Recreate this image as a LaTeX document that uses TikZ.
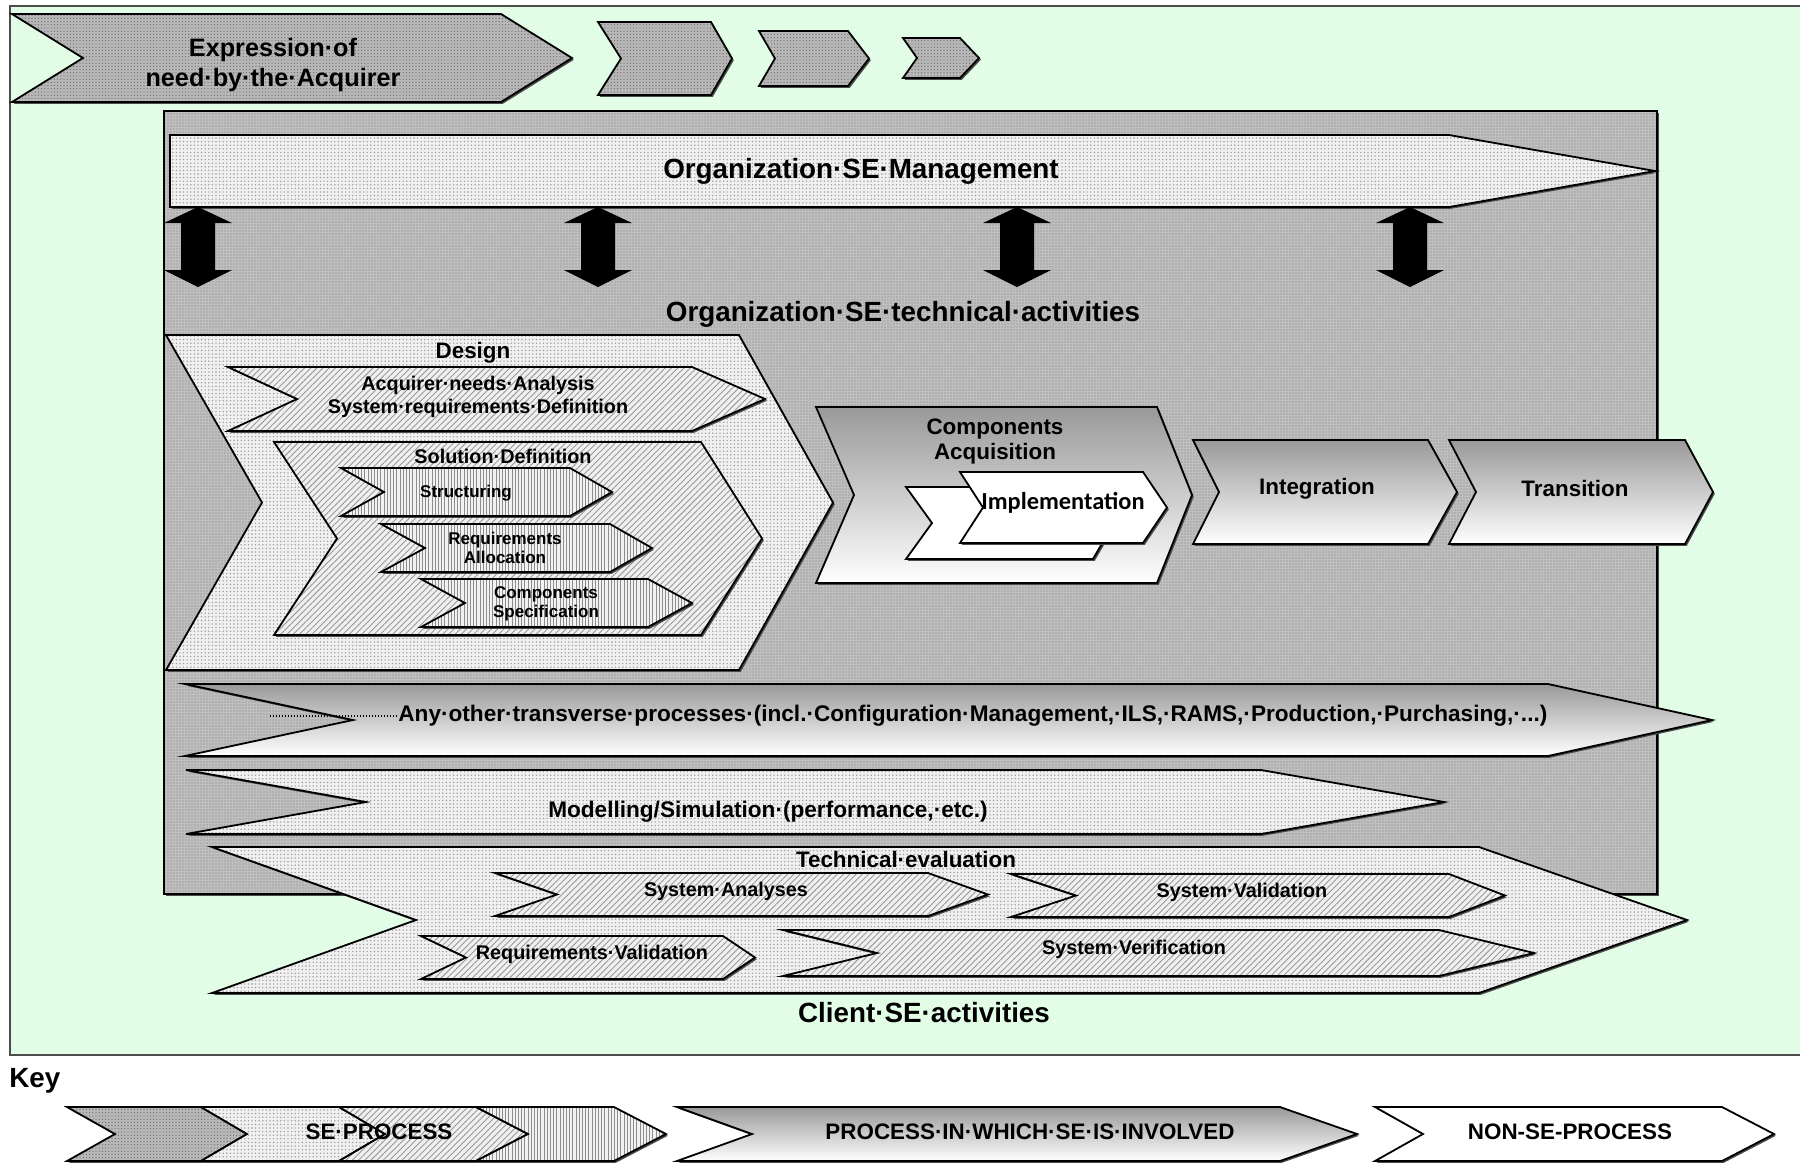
\documentclass[tikz,border=0pt]{standalone}
\usepackage{fontspec}
\setmainfont{Liberation Sans}
\newfontfamily\calfont{Carlito}
\usetikzlibrary{patterns.meta,shadows}

% chevron outline: style, left x, notch x, top-right x, tip x, top y, bottom y
\newcommand{\chevpath}[7]{%
  \path[#1] (#2,#6) -- (#4,#6) -- (#5,{(#6+#7)/2}) -- (#4,#7) -- (#2,#7) -- (#3,{(#6+#7)/2}) -- cycle;}

\definecolor{bggreen}{RGB}{225,253,229}

\begin{document}
\begin{tikzpicture}[x=0.5pt,y=-0.5pt,
  outline/.style={draw=black, line width=0.9pt, line join=miter},
  shadowed/.style={drop shadow={shadow xshift=0.9pt, shadow yshift=-0.9pt, fill=black!70, opacity=1}},
  sedark/.style={outline, shadowed, preaction={fill=black!28},
    pattern={Dots[distance=1.6pt,radius=0.35pt]}, pattern color=black!55},
  selight/.style={outline, shadowed, preaction={fill=black!6},
    pattern={Dots[distance=1.8pt,radius=0.38pt]}, pattern color=black!40},
  sediag/.style={outline, shadowed, preaction={fill=black!6},
    pattern={Lines[angle=45,distance=2.2pt,line width=0.45pt]}, pattern color=black!40},
  severt/.style={outline, shadowed, preaction={fill=black!5},
    pattern={Lines[angle=90,distance=1.6pt,line width=0.4pt]}, pattern color=black!45},
  involved/.style={outline, shadowed, top color=black!40, bottom color=white},
  nonse/.style={outline, shadowed, fill=white},
  lbl/.style={inner sep=0pt, align=center},
  tbig/.style={lbl, font=\bfseries\fontsize{13.9}{16}\selectfont},
  texp/.style={lbl, font=\bfseries\fontsize{12.6}{15}\selectfont},
  tmid/.style={lbl, font=\bfseries\fontsize{11.2}{12.5}\selectfont},
  tlong/.style={lbl, font=\bfseries\fontsize{11.3}{13}\selectfont},
  tsm/.style={lbl, font=\bfseries\fontsize{9.9}{11.5}\selectfont},
  ttiny/.style={lbl, font=\bfseries\fontsize{8.5}{9.5}\selectfont},
  timpl/.style={lbl, font=\calfont\bfseries\fontsize{12.2}{14}\selectfont},
]
\useasboundingbox (0,0) rectangle (1800,1164);
\fill[white] (0,0) rectangle (1800,1164);

% overall green area
\path[fill=bggreen, postaction={pattern={Dots[distance=4pt,radius=0.5pt]}, pattern color=white}]
  (10,6) rectangle (1812,1055);
\draw[black!70, line width=1pt] (1812,6) -- (10,6) -- (10,1055) -- (1812,1055);

% acquirer need and following stages
\chevpath{sedark}{12}{83}{501}{572}{14}{102}
\chevpath{sedark}{598}{621}{711}{732}{22}{95}
\chevpath{sedark}{759}{775}{848}{869}{31}{86}
\chevpath{sedark}{903}{917}{960}{979}{38}{78}
\node[texp] (need) at (273,65) {Expression·of\\need·by·the·Acquirer};

% organization area
\path[outline, line width=0.7pt, shadowed, preaction={fill=black!25},
  pattern={Dots[distance=1.5pt,radius=0.35pt]}, pattern color=black!50]
  (164,111) rectangle (1657,894);

\chevpath{selight}{170}{170}{1449}{1655}{135}{207}
\node[tbig] (mgmt) at (861,171) {Organization·SE·Management};

% double arrows between management and technical activities
\foreach \cx in {198,598,1017,1410} {
  \fill[black] (\cx,207) -- (\cx+34,223) -- (\cx+17,223) -- (\cx+17,270) -- (\cx+34,270)
    -- (\cx,287) -- (\cx-34,270) -- (\cx-17,270) -- (\cx-17,223) -- (\cx-34,223) -- cycle;
}
\node[tbig] (tech) at (903,314) {Organization·SE·technical·activities};

% design
\chevpath{selight}{166}{262}{739}{833}{335}{670}
\node[tmid] (design) at (473,353) {Design};
\chevpath{sediag}{228}{297}{692}{765}{367}{431}
\node[tsm] (needs) at (478,397) {Acquirer·needs·Analysis\\System·requirements·Definition};
\chevpath{sediag}{274}{337}{701}{762}{442}{635}
\node[tsm] (soldef) at (503,456) {Solution·Definition};
\chevpath{severt}{341}{384}{570}{612}{468}{516}
\node[ttiny] (struct) at (466,493) {Structuring};
\chevpath{severt}{381}{425}{610}{652}{524}{572}
\node[ttiny] (alloc) at (505,548) {Requirements\\Allocation};
\chevpath{severt}{421}{465}{648}{692}{579}{627}
\node[ttiny] (spec) at (546,604) {Components\\Specification};

% acquisition, integration, transition
\chevpath{involved}{816}{854}{1157}{1192}{407}{583}
\node[tmid] (acq) at (995,441) {Components\\Acquisition};
\chevpath{nonse}{906}{932}{1093}{1114}{487}{559}
\chevpath{nonse}{960}{983}{1143}{1167}{472}{543}
\node[timpl] (impl) at (1063,503) {Implementation};
\chevpath{involved}{1193}{1219}{1428}{1457}{440}{544}
\node[tmid] (integ) at (1317,489) {Integration};
\chevpath{involved}{1449}{1476}{1685}{1713}{440}{544}
\node[tmid] (trans) at (1575,488) {Transition};

% transverse processes
\chevpath{involved}{185}{353}{1548}{1712}{684}{756}
\node[tlong, anchor=west] (transv) at (398,716)
  {Any·other·transverse·processes·(incl.·Configuration·Management,·ILS,·RAMS,·Production,·Purchasing,·...)};
\coordinate (leader) at (270,716);
\draw[black, line width=1pt, dash pattern=on 0.7pt off 0.8pt] (leader) -- (transv.west);

\chevpath{selight}{186}{366}{1261}{1444}{770}{834}
\node[tlong] (model) at (768,812) {Modelling/Simulation·(performance,·etc.)};

% technical evaluation
\chevpath{selight}{212}{416}{1479}{1687}{847}{993}
\node[tmid] (eval) at (906,859) {Technical·evaluation};
\chevpath{sediag}{495}{557}{928}{988}{873}{916}
\node[tsm] (sysan) at (726,891) {System·Analyses};
\chevpath{sediag}{1011}{1076}{1449}{1505}{874}{917}
\node[tsm] (sysval) at (1242,892) {System·Validation};
\chevpath{sediag}{421}{466}{723}{755}{936}{979}
\node[tsm] (reqval) at (592,954) {Requirements·Validation};
\chevpath{sediag}{783}{877}{1439}{1534}{930}{976}
\node[tsm] (sysver) at (1134,949) {System·Verification};

\node[tbig] (client) at (924,1013) {Client·SE·activities};

% key
\node[tbig, anchor=west] (key) at (9,1081) {Key};
\chevpath{sedark}{67}{115}{201}{247}{1107}{1161}
\chevpath{selight}{201}{247}{339}{385}{1107}{1161}
\chevpath{sediag}{339}{385}{476}{528}{1107}{1161}
\chevpath{severt}{476}{528}{614}{666}{1107}{1161}
\node[tmid] (kse) at (379,1132) {SE·PROCESS};
\chevpath{involved}{677}{752}{1280}{1357}{1107}{1161}
\node[tmid] (kinv) at (1030,1132) {PROCESS·IN·WHICH·SE·IS·INVOLVED};
\chevpath{nonse}{1375}{1423}{1722}{1774}{1107}{1161}
\node[tmid] (knon) at (1570,1132) {NON-SE-PROCESS};
\end{tikzpicture}
\end{document}
